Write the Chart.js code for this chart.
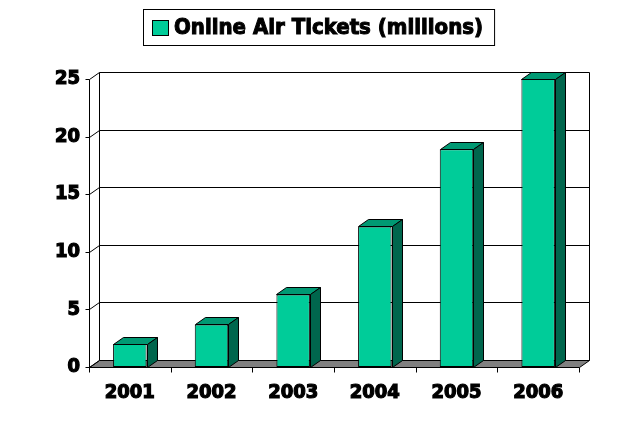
<!DOCTYPE html>
<html>
<head>
<meta charset="utf-8">
<title>Online Air Tickets</title>
<script src="https://cdn.jsdelivr.net/npm/chart.js@4.4.0/dist/chart.umd.min.js"></script>
<style>
  html, body { margin: 0; padding: 0; background: #fff; }
  #wrap { width: 638px; height: 431px; }
</style>
</head>
<body>
<div id="wrap"><canvas id="ticketsChart" width="638" height="431"></canvas></div>
<script>
const years = ['2001', '2002', '2003', '2004', '2005', '2006'];
const tickets = [2.0, 3.7, 6.3, 12.2, 18.9, 25.0];
const yTicks = [0, 5, 10, 15, 20, 25];
const seriesName = 'Online Air Tickets (millions)';

const FONT = "'DejaVu Sans Condensed', 'DejaVu Sans', sans-serif";
const DX = 10, DY = 7; // depth offset of the 3d box
const colorFront = '#00cc99', colorTop = '#009973', colorSide = '#00664d';

// snap to pixel centre so 1px lines stay crisp
const px = v => Math.round(v) + 0.5;

function line(ctx, x1, y1, x2, y2) {
    ctx.beginPath();
    ctx.moveTo(px(x1), px(y1));
    ctx.lineTo(px(x2), px(y2));
    ctx.stroke();
}

function poly(ctx, pts, fill) {
    ctx.beginPath();
    pts.forEach((p, i) => i ? ctx.lineTo(px(p[0]), px(p[1])) : ctx.moveTo(px(p[0]), px(p[1])));
    ctx.closePath();
    ctx.fillStyle = fill;
    ctx.fill();
    ctx.stroke();
}

// back wall, floor and axis lines, drawn behind the bars
const box3d = {
    id: 'box3d',
    beforeDatasetsDraw(chart) {
        const { ctx, chartArea, scales: { x, y } } = chart;
        const left = chartArea.left, right = chartArea.right;
        const bottom = y.getPixelForValue(0);
        const top = y.getPixelForValue(yTicks[yTicks.length - 1]);
        ctx.save();
        ctx.lineWidth = 1;
        ctx.strokeStyle = '#000';

        poly(ctx, [[left, bottom], [right, bottom], [right + DX, bottom - DY], [left + DX, bottom - DY]], '#808080');

        yTicks.forEach(v => {
            const py = y.getPixelForValue(v);
            if (v > 0) line(ctx, left + DX, py - DY, right + DX, py - DY);
            line(ctx, left, py, left + DX, py - DY);
            line(ctx, left - 4, py, left, py);
        });
        line(ctx, left + DX, top - DY, left + DX, bottom - DY);
        line(ctx, right + DX, top - DY, right + DX, bottom - DY);
        line(ctx, left, top, left, bottom);

        for (let i = 0; i <= years.length; i++) {
            const bx = x.getPixelForValue(i - 0.5);
            line(ctx, bx, bottom, bx, bottom + 5);
        }
        ctx.restore();
    },
    // top and side faces of every bar
    afterDatasetsDraw(chart) {
        const ctx = chart.ctx;
        ctx.save();
        ctx.lineWidth = 1;
        ctx.strokeStyle = '#000';
        chart.getDatasetMeta(0).data.forEach(bar => {
            const l = bar.x - bar.width / 2, r = bar.x + bar.width / 2;
            const t = bar.y, b = bar.base;
            poly(ctx, [[l, t], [r, t], [r + DX, t - DY], [l + DX, t - DY]], colorTop);
            poly(ctx, [[r, t], [r + DX, t - DY], [r + DX, b - DY], [r, b]], colorSide);
        });
        ctx.restore();
    },
    // framed legend at the top
    afterDraw(chart) {
        const ctx = chart.ctx;
        ctx.save();
        ctx.font = 'bold 22px ' + FONT;
        const textW = ctx.measureText(seriesName).width;
        const boxW = 9 + 16 + 6 + textW + 11;
        const bx = Math.round((chart.width - boxW) / 2);
        const by = 9, bh = 36;
        ctx.strokeStyle = '#000';
        ctx.lineWidth = 1;
        ctx.strokeRect(bx + 0.5, by + 0.5, boxW, bh);
        ctx.fillStyle = colorFront;
        ctx.fillRect(bx + 9.5, by + 11.5, 16, 15);
        ctx.strokeRect(bx + 9.5, by + 11.5, 16, 15);
        ctx.fillStyle = '#000';
        ctx.textBaseline = 'middle';
        ctx.lineWidth = 1;
        ctx.strokeText(seriesName, bx + 31, by + bh / 2 + 1);
        ctx.fillText(seriesName, bx + 31, by + bh / 2 + 1);
        ctx.restore();
    }
};

const tickFont = { family: FONT, size: 20, weight: 'bold' };

new Chart(document.getElementById('ticketsChart'), {
    type: 'bar',
    data: {
        labels: years,
        datasets: [{
            label: seriesName,
            data: tickets,
            backgroundColor: colorFront,
            borderColor: '#000',
            borderWidth: 1,
            borderSkipped: false,
            categoryPercentage: 1,
            barPercentage: 0.41
        }]
    },
    options: {
        responsive: false,
        animation: false,
        layout: { padding: { top: 79, right: 59, bottom: 0, left: 0 } },
        plugins: { legend: { display: false }, tooltip: { enabled: false } },
        scales: {
            x: {
                grid: { display: false, drawTicks: false },
                border: { display: false },
                ticks: { color: '#000', font: tickFont, padding: 14, textStrokeColor: '#000', textStrokeWidth: 1.2 },
                afterFit: s => { s.height = 64; }
            },
            y: {
                min: 0,
                max: 25,
                grid: { display: false, drawTicks: false },
                border: { display: false },
                ticks: { color: '#000', font: tickFont, padding: 9, textStrokeColor: '#000', textStrokeWidth: 1.2 },
                afterBuildTicks: s => { s.ticks = yTicks.map(v => ({ value: v })); },
                afterFit: s => { s.width = 89; }
            }
        }
    },
    plugins: [box3d]
});
</script>
</body>
</html>
